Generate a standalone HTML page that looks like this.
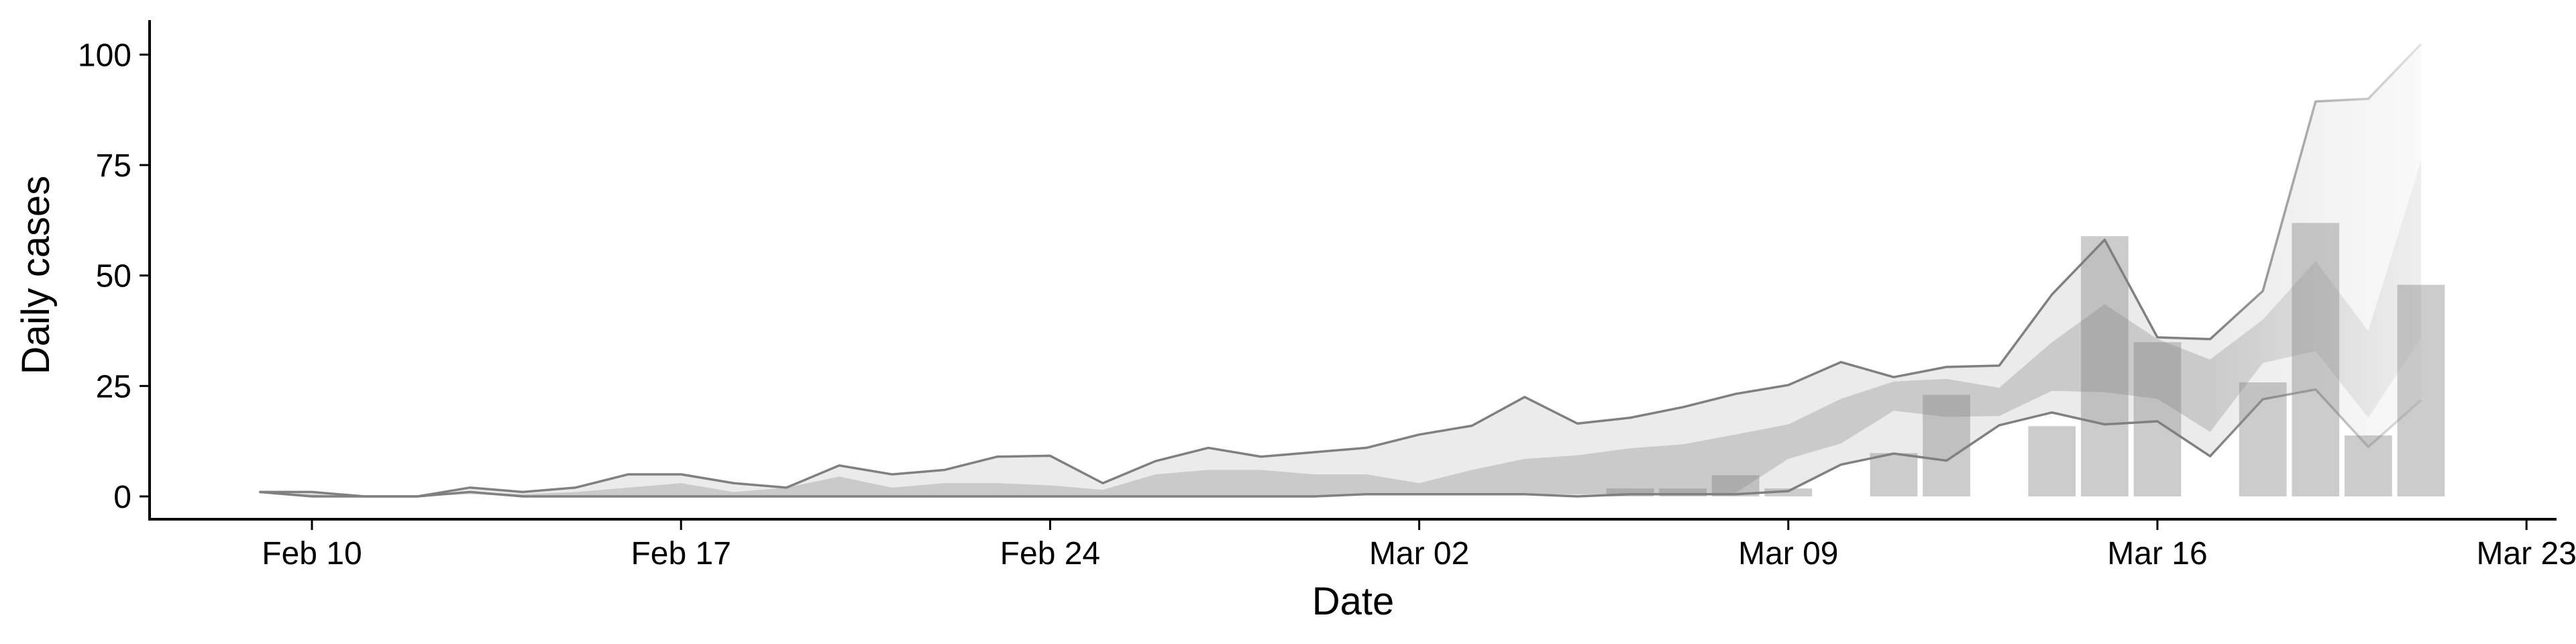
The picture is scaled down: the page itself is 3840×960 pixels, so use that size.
<!DOCTYPE html>
<html><head><meta charset="utf-8"><style>
html,body{margin:0;padding:0;background:#fff;width:3840px;height:960px;overflow:hidden}
svg text{font-family:"Liberation Sans",sans-serif;fill:#000}
</style></head><body>
<svg id="chart" width="3840" height="960" viewBox="0 0 3840 960" xmlns="http://www.w3.org/2000/svg">
<defs>
<linearGradient id="fadeFill" gradientUnits="userSpaceOnUse" x1="0" y1="0" x2="3840" y2="0">
<stop id="ff0" offset="0" stop-color="#000" stop-opacity="1"/>
<stop id="ff1" offset="0.8" stop-color="#000" stop-opacity="1"/>
<stop id="ff2" offset="0.95" stop-color="#000" stop-opacity="0.3"/>
</linearGradient>
<linearGradient id="fadeLine" gradientUnits="userSpaceOnUse" x1="0" y1="0" x2="3840" y2="0">
<stop id="fl0" offset="0" stop-color="#808080" stop-opacity="1"/>
<stop id="fl1" offset="0.8" stop-color="#808080" stop-opacity="1"/>
<stop id="fl2" offset="0.95" stop-color="#808080" stop-opacity="0.2"/>
</linearGradient>
</defs>
<g id="plot"></g>
<g id="axes"></g>
</svg>
<script>
// data: Feb 9 .. Mar 21
const startDate = "2020-02-09";
const upperLine = [1,1,0,0,2,1,2,5,5,3,2,7,5,6,9,9.2,3,8,11,9,10,11,14,16,22.5,16.5,17.8,20.2,23.2,25.2,30.4,27,29.3,29.6,45.7,58.1,36,35.6,46.5,89.4,90,102.4];
const lowerLine = [1,0,0,0,1,0,0,0,0,0,0,0,0,0,0,0,0,0,0,0,0,0.5,0.5,0.5,0.5,0,0.5,0.5,0.5,1.2,7.2,9.7,8.1,16.1,19,16.3,17,9.1,22,24.2,11.2,21.8];
const innerUpper = [1,0.5,0,0,1,0.5,1,2,3,1,2,4.5,2,3,3,2.5,1.5,5,6,6,5,5,3,6,8.5,9.3,10.9,11.8,14,16.3,22.1,26,26.6,24.6,34.9,43.5,35.6,31,40,53.3,37.4,76];
const innerLower = [1,0,0,0,0.5,0,0,0,0,0,0,0,0,0,0,0,0,0,0,0,0,0.5,0.5,0.5,0.5,0.5,0.5,0.5,0.8,8.5,12,19.4,18,18.2,23.9,23.6,22.1,14.6,30.2,32.9,17.8,36];
const barDates = ["2020-03-06","2020-03-07","2020-03-08","2020-03-09","2020-03-11","2020-03-12","2020-03-14","2020-03-15","2020-03-16","2020-03-18","2020-03-19","2020-03-20","2020-03-21"];
const barValues = [1.8,1.8,4.8,1.8,9.8,23,15.9,58.9,34.9,25.8,61.9,13.8,47.9];
const yTicks = [0,25,50,75,100];
const xTickDates = ["2020-02-10","2020-02-17","2020-02-24","2020-03-02","2020-03-09","2020-03-16","2020-03-23"];
const xTickLabels = ["Feb 10","Feb 17","Feb 24","Mar 02","Mar 09","Mar 16","Mar 23"];

const NS="http://www.w3.org/2000/svg";
const DAY=86400000;
const x0=465, pxDay=78.6, ref=Date.parse("2020-02-10");
function xDate(s){return x0+(Date.parse(s)-ref)/DAY*pxDay;}
function xIdx(i){return xDate(startDate)+i*pxDay;}
function y(v){return 740-v*6.586;}
function mk(tag,attrs,parent){const e=document.createElementNS(NS,tag);for(const k in attrs)e.setAttribute(k,attrs[k]);parent.appendChild(e);return e;}
const plot=document.getElementById('plot'), axes=document.getElementById('axes');
const n=upperLine.length;
const fadeStart=xIdx(n-5)/3840, fadeEnd=xIdx(n-1)/3840;
['ff1','fl1'].forEach(id=>document.getElementById(id).setAttribute('offset',fadeStart));
['ff2','fl2'].forEach(id=>document.getElementById(id).setAttribute('offset',fadeEnd));
function band(up,lo){let d='';for(let i=0;i<n;i++)d+=(i?'L':'M')+xIdx(i)+','+y(up[i]);for(let i=n-1;i>=0;i--)d+='L'+xIdx(i)+','+y(lo[i]);return d+'Z';}
const outer=mk('path',{d:band(upperLine,lowerLine),fill:'url(#fadeFill)','fill-opacity':0.08},plot);


const inner=mk('path',{d:band(innerUpper,innerLower),fill:'url(#fadeFill)','fill-opacity':0.14},plot);


function line(arr){let d='';arr.forEach((v,i)=>d+=(i?'L':'M')+xIdx(i)+','+y(v));return d;}
const ul=mk('path',{d:line(upperLine),fill:'none',stroke:'url(#fadeLine)','stroke-width':3.5,'stroke-linejoin':'round'},plot);


const ll=mk('path',{d:line(lowerLine),fill:'none',stroke:'url(#fadeLine)','stroke-width':3.5,'stroke-linejoin':'round'},plot);


const bw=pxDay*0.9;
barDates.forEach((d,i)=>{
  const cx=xDate(d);
  const r=mk('rect',{x:cx-bw/2,y:y(barValues[i]),width:bw,height:y(0)-y(barValues[i]),fill:'rgba(128,128,128,0.4)'},plot);
  
  
});
const ya=mk('line',{x1:223,y1:30,x2:223,y2:775,stroke:'#000','stroke-width':4},axes);


const xa=mk('line',{x1:221,y1:774,x2:3811,y2:774,stroke:'#000','stroke-width':4},axes);


yTicks.forEach(v=>{
  const t=mk('line',{x1:208,y1:y(v),x2:223,y2:y(v),stroke:'#000','stroke-width':3},axes);
  
  
  const l=mk('text',{x:196,y:y(v)+17,'text-anchor':'end','font-size':48},axes);
  l.textContent=v;
  
  
});
xTickDates.forEach((d,i)=>{
  const xx=xDate(d);
  const t=mk('line',{x1:xx,y1:774,x2:xx,y2:790,stroke:'#000','stroke-width':3},axes);
  
  
  const l=mk('text',{x:xx,y:841,'text-anchor':'middle','font-size':48},axes);
  l.textContent=xTickLabels[i];
  
  
});
const xt=mk('text',{x:2017,y:916,'text-anchor':'middle','font-size':58},axes);
xt.textContent='Date';


const yt=mk('text',{x:0,y:0,'text-anchor':'middle','font-size':58,transform:'translate(73,410) rotate(-90)'},axes);
yt.textContent='Daily cases';


</script>
</body></html>
